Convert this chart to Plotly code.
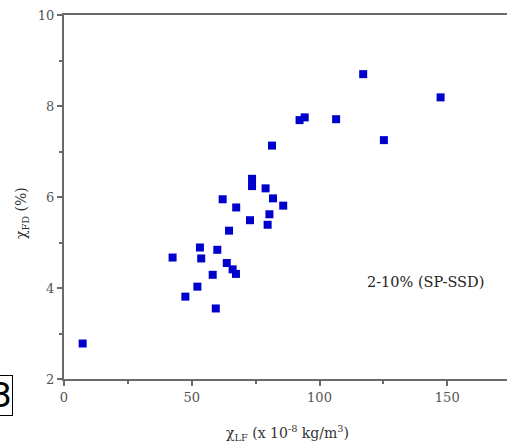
import plotly.graph_objects as go

# Data
chi_lf = [73.6, 73.6, 78.9, 62.1, 81.8, 85.8, 67.4, 80.4, 72.8, 79.7,
          64.6, 53.2, 60.0, 42.5, 53.7, 63.7, 66.0, 67.3, 58.2, 52.2,
          47.5, 59.4, 117.1, 147.4, 92.2, 94.2, 106.5, 81.4, 125.2, 7.3]
chi_fd = [6.40, 6.24, 6.19, 5.95, 5.97, 5.81, 5.77, 5.62, 5.49, 5.39,
          5.26, 4.89, 4.84, 4.67, 4.65, 4.55, 4.41, 4.31, 4.29, 4.03,
          3.81, 3.55, 8.70, 8.19, 7.69, 7.75, 7.71, 7.13, 7.25, 2.78]
x_ticks = [0, 50, 100, 150]
y_ticks = [2, 4, 6, 8, 10]

W, H = 507, 443
L, R, T, B = 64, 0, 15, 64
pw = W - L - R
ph = H - T - B

serif = "DejaVu Serif"
axis_col = "#6a6a6a"
tick_col = "#555555"

fig = go.Figure()
fig.add_trace(go.Scatter(
    x=chi_lf, y=chi_fd, mode="markers",
    marker=dict(symbol="square", size=8, color="#0000cc", line=dict(width=0)),
    showlegend=False, cliponaxis=False,
))

fig.update_layout(
    width=W, height=H,
    margin=dict(l=L, r=R, t=T, b=B),
    plot_bgcolor="white", paper_bgcolor="white",
    font=dict(family=serif),
    xaxis=dict(
        range=[0, pw / 2.555], tickvals=x_ticks, showgrid=False, zeroline=False,
        showline=True, linecolor=axis_col, linewidth=2, mirror=True,
        ticks="outside", ticklen=5, tickwidth=1.5, tickcolor=axis_col,
        minor=dict(dtick=25, tick0=0, ticks="outside", ticklen=3, tickcolor=axis_col, showgrid=False),
        tickfont=dict(family=serif, size=13, color=tick_col),
    ),
    yaxis=dict(
        range=[2, 10], tickvals=y_ticks, showgrid=False, zeroline=False,
        showline=True, linecolor=axis_col, linewidth=2,
        ticks="outside", ticklen=5, tickwidth=1.5, tickcolor=axis_col,
        minor=dict(dtick=1, tick0=2, ticks="outside", ticklen=3, tickcolor=axis_col, showgrid=False),
        tickfont=dict(family=serif, size=13, color=tick_col),
    ),
    annotations=[
        dict(text="χ<sub>LF</sub> (x 10<sup>-8</sup> kg/m<sup>3</sup>)",
             xref="paper", yref="paper", x=(287 - L) / pw, y=-(433 - T - ph) / ph,
             showarrow=False, xanchor="center", yanchor="middle",
             font=dict(family=serif, size=14, color="#333333")),
        dict(text="χ<sub>FD</sub> (%)",
             xref="paper", yref="paper", x=(22 - L) / pw, y=1 - (213 - T) / ph,
             showarrow=False, xanchor="center", yanchor="middle", textangle=-90,
             font=dict(family=serif, size=14, color="#333333")),
        dict(text="2-10% (SP-SSD)",
             xref="paper", yref="paper", x=(365 - L) / pw, y=1 - (282 - T) / ph,
             showarrow=False, xanchor="left", yanchor="middle",
             font=dict(family=serif, size=14.5, color="#222222")),
        dict(text="3",
             xref="paper", yref="paper", x=(13 - L) / pw, y=1 - (395 - T) / ph,
             showarrow=False, xanchor="right", yanchor="middle",
             bordercolor="black", borderwidth=1, borderpad=0,
             font=dict(family="DejaVu Sans", size=33, color="black")),
    ],
)

fig.write_html("out.html")
